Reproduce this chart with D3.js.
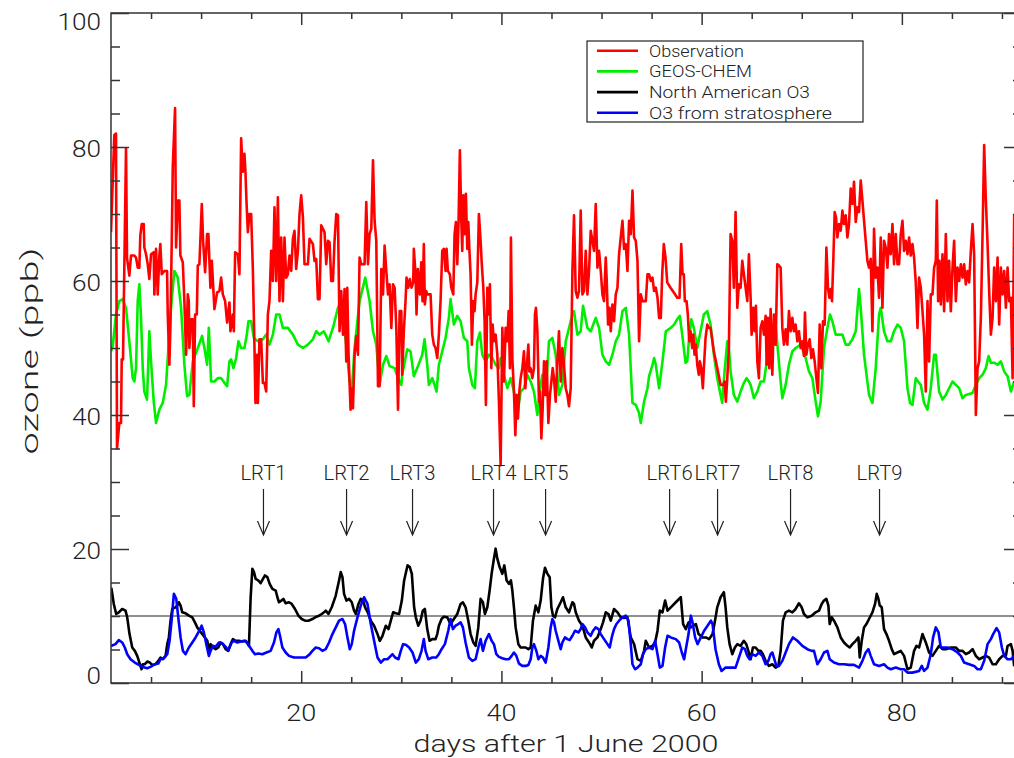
<!DOCTYPE html>
<html><head><meta charset="utf-8">
<script src="https://cdn.jsdelivr.net/npm/d3@7"></script>
<style>
html,body{margin:0;padding:0;background:#fff;}
svg text{font-family:Roboto,"DejaVu Sans",sans-serif;font-weight:300;fill:#222;}
</style></head>
<body>
<svg id="chart" width="1014" height="758"></svg>
<script>
// ---- DATA (day after 1 June 2000, ozone ppb) ----
const observation = [
[1.0,67.3],[1.33,81.8],[1.5,82.0],[1.6,35.0],[1.83,38.8],[2.0,38.8],[2.07,48.3],[2.2,48.3],[2.5,79.8],[2.6,63.5],[2.83,60.8],[3.0,63.8],[3.33,63.8],[3.5,63.5],[3.67,62.0],[3.83,62.0],[3.93,66.8],[4.07,68.5],[4.27,68.5],[4.33,65.0],[4.5,64.0],[4.67,62.5],[4.83,60.3],[5.0,64.0],[5.27,64.3],[5.33,58.0],[5.5,64.8],[5.67,58.0],[5.83,63.8],[5.93,65.5],[6.07,61.0],[6.33,61.5],[6.6,61.5],[6.67,55.0],[6.83,47.5],[6.93,53.0],[7.07,66.0],[7.17,77.0],[7.4,85.8],[7.5,65.0],[7.67,72.0],[7.83,72.0],[7.93,63.8],[8.17,62.8],[8.33,57.0],[8.5,49.0],[8.67,58.0],[8.77,57.0],[8.83,50.0],[9.0,54.3],[9.17,54.3],[9.27,41.3],[9.4,55.0],[9.57,55.0],[9.67,62.3],[9.83,62.5],[10.07,71.5],[10.2,66.0],[10.4,61.3],[10.6,67.0],[10.73,67.0],[10.93,59.0],[11.07,63.0],[11.33,55.8],[11.6,58.3],[11.83,58.5],[12.0,60.5],[12.17,58.0],[12.4,57.0],[12.6,53.8],[12.83,56.8],[12.93,52.5],[13.17,55.0],[13.27,52.5],[13.4,64.3],[13.67,64.0],[13.83,61.0],[14.0,81.3],[14.17,76.3],[14.33,79.0],[14.43,76.3],[14.53,72.0],[14.67,67.3],[14.83,70.0],[15.0,70.0],[15.17,61.8],[15.33,50.3],[15.43,41.8],[15.6,49.0],[15.67,41.8],[15.83,51.3],[16.0,51.3],[16.17,44.8],[16.33,44.8],[16.5,43.5],[16.67,55.0],[16.83,57.0],[17.0,64.5],[17.17,60.0],[17.33,71.0],[17.5,60.0],[17.67,72.5],[17.83,57.0],[18.0,66.5],[18.17,57.0],[18.33,66.5],[18.5,60.5],[18.67,61.0],[18.83,63.8],[19.0,61.5],[19.17,66.3],[19.33,67.5],[19.5,61.8],[19.67,64.5],[19.83,70.0],[20.0,72.8],[20.17,69.5],[20.33,62.5],[20.67,62.5],[20.83,66.3],[21.17,65.5],[21.33,63.0],[21.5,63.3],[21.67,57.3],[21.83,57.3],[22.0,68.3],[22.33,67.3],[22.5,62.5],[22.67,66.0],[22.83,65.8],[23.0,60.0],[23.17,60.0],[23.33,66.0],[23.5,70.0],[23.67,69.8],[23.83,52.5],[24.0,58.5],[24.17,52.0],[24.33,58.8],[24.5,48.0],[24.6,59.0],[24.73,49.0],[24.93,40.8],[25.07,44.0],[25.17,41.0],[25.33,49.0],[25.5,51.8],[25.67,49.0],[25.83,63.5],[26.0,62.5],[26.33,62.5],[26.5,71.8],[26.67,62.5],[26.83,67.0],[27.0,67.8],[27.17,78.0],[27.33,69.0],[27.5,66.0],[27.67,44.3],[27.83,44.3],[28.0,61.8],[28.17,58.0],[28.33,65.3],[28.5,61.5],[28.67,58.0],[28.83,59.5],[29.0,53.0],[29.17,59.5],[29.33,59.0],[29.5,53.0],[29.67,40.8],[29.83,55.5],[30.0,55.5],
[30.09,46.0],[30.25,52.5],[30.42,57.0],[30.52,60.5],[30.69,59.0],[30.85,60.3],[31.02,59.0],[31.19,59.8],[31.25,64.8],[31.42,61.0],[31.52,55.0],[31.65,61.8],[31.85,58.0],[31.99,62.8],[32.12,57.0],[32.25,65.5],[32.35,56.5],[32.49,58.5],[32.59,58.0],[32.92,58.0],[33.09,52.0],[33.25,50.5],[33.42,50.0],[33.59,48.5],[33.75,52.0],[33.92,57.0],[34.09,64.5],[34.25,64.8],[34.42,61.5],[34.52,64.8],[34.65,61.5],[34.85,61.0],[34.99,59.0],[35.19,58.0],[35.32,67.0],[35.45,68.8],[35.59,62.5],[35.72,69.0],[35.85,79.5],[35.99,69.0],[36.09,64.5],[36.19,72.8],[36.32,67.0],[36.45,73.0],[36.59,64.8],[36.69,68.8],[36.79,65.0],[36.92,61.0],[37.05,50.5],[37.19,57.0],[37.32,55.5],[37.42,58.0],[37.59,59.8],[37.75,70.0],[37.92,66.0],[38.02,63.0],[38.19,59.0],[38.32,54.0],[38.45,41.5],[38.59,59.0],[38.72,55.0],[38.85,59.5],[38.99,47.0],[39.12,53.5],[39.25,51.0],[39.42,52.0],[39.59,49.0],[39.75,42.0],[39.92,32.5],[40.09,53.0],[40.25,45.0],[40.42,53.0],[40.59,51.0],[40.72,55.5],[40.85,47.0],[40.95,66.5],[41.09,48.5],[41.25,43.5],[41.39,37.0],[41.52,43.0],[41.65,39.5],[41.79,43.5],[41.92,45.5],[42.09,47.0],[42.25,49.5],[42.39,44.0],[42.52,47.0],[42.69,50.5],[42.79,46.5],[42.92,47.0],[43.09,45.5],[43.25,47.0],[43.35,55.0],[43.45,56.0],[43.59,52.5],[43.75,42.0],[43.85,43.5],[43.99,36.5],[44.12,41.0],[44.25,48.0],[44.39,43.0],[44.52,48.0],[44.69,38.8],[44.85,43.0],[44.99,45.0],[45.12,47.0],[45.25,45.5],[45.42,42.0],[45.59,48.0],[45.75,52.5],[45.92,45.0],[46.09,50.0],[46.25,47.5],[46.42,44.0],[46.59,43.0],[46.75,41.3],[46.92,44.0],[47.09,61.5],[47.25,69.8],[47.42,58.5],[47.59,57.5],[47.75,58.5],[47.92,70.5],[48.09,58.0],[48.25,58.5],[48.42,64.5],[48.59,58.0],[48.75,61.5],[48.92,67.5],[49.09,66.0],[49.25,64.5],[49.42,71.5],[49.59,62.0],[49.75,64.5],[49.92,61.5],[50.09,58.0],[50.25,57.0],[50.42,63.5],[50.52,60.0],[50.65,53.5],[50.79,56.0],[50.92,52.5],[51.09,56.5],[51.25,54.0],[51.42,58.0],[51.59,59.0],[51.75,64.0],[51.92,66.5],[52.09,69.0],[52.25,64.8],[52.42,65.5],[52.59,61.5],[52.75,69.0],[52.92,67.0],[53.09,73.5],[53.25,66.5],[53.42,66.0],[53.59,63.0],[53.75,51.0],[53.92,58.0],[54.09,57.0],[54.42,57.0],[54.59,61.0],[54.75,61.0],[54.92,60.0],[55.09,60.5],[55.25,58.5],[55.42,59.0],[55.59,57.5],[55.75,54.5],[55.92,54.5],
[56.06,61.0],[56.22,65.5],[56.39,63.5],[56.56,59.8],[56.89,59.0],[57.22,58.3],[57.56,57.5],[57.79,57.5],[57.96,65.5],[58.09,61.0],[58.22,61.0],[58.32,57.0],[58.49,57.0],[58.62,55.0],[58.76,51.0],[58.89,52.5],[59.06,50.0],[59.16,52.0],[59.29,49.0],[59.42,50.5],[59.56,47.5],[59.72,46.0],[59.82,48.0],[59.96,47.0],[60.12,44.0],[60.22,47.0],[60.39,51.5],[60.56,53.5],[60.72,53.0],[60.89,53.0],[61.22,49.5],[61.56,47.0],[61.89,44.5],[62.16,44.5],[62.29,45.0],[62.42,42.0],[62.56,45.5],[62.72,50.0],[62.89,67.0],[63.06,66.0],[63.22,59.0],[63.39,70.3],[63.56,56.0],[63.72,59.5],[63.89,59.0],[64.06,63.0],[64.22,61.0],[64.39,59.0],[64.56,57.0],[64.72,64.0],[64.89,57.5],[64.99,52.0],[65.16,56.0],[65.29,52.5],[65.42,56.3],[65.56,48.0],[65.72,45.5],[65.89,53.0],[66.06,54.0],[66.22,52.0],[66.39,54.8],[66.49,47.5],[66.62,54.5],[66.76,47.0],[66.89,55.8],[67.06,46.0],[67.22,55.0],[67.39,50.5],[67.56,62.5],[67.72,62.3],[67.89,62.0],[68.06,53.0],[68.22,50.5],[68.39,52.8],[68.56,50.5],[68.72,55.5],[68.89,52.5],[69.06,54.5],[69.22,52.5],[69.39,53.5],[69.56,51.0],[69.72,52.5],[69.89,50.0],[70.06,51.0],[70.22,48.8],[70.32,55.3],[70.46,49.0],[70.62,50.5],[70.79,51.3],[70.96,48.5],[71.12,49.8],[71.29,48.0],[71.46,45.5],[71.62,43.3],[71.79,53.5],[71.96,47.0],[72.12,54.0],[72.29,53.5],[72.46,65.0],[72.62,59.0],[72.76,57.5],[72.89,58.8],[73.02,57.0],[73.16,63.5],[73.29,70.3],[73.42,69.5],[73.56,66.5],[73.72,68.5],[73.89,67.5],[74.06,70.5],[74.22,68.5],[74.39,69.8],[74.56,66.5],[74.72,68.5],[74.89,73.8],[75.06,71.5],[75.22,74.8],[75.39,68.8],[75.56,71.0],[75.72,70.3],[75.89,75.0],[76.06,72.0],[76.22,69.0],[76.39,66.0],[76.56,63.0],[76.72,62.0],[76.89,63.3],[77.06,52.5],[77.22,67.8],[77.39,60.5],[77.56,62.0],[77.72,57.5],[77.89,66.5],[78.06,56.0],[78.22,66.0],[78.39,65.0],[78.56,62.0],[78.72,67.0],[78.89,64.0],[79.06,68.5],[79.22,62.5],[79.39,67.0],[79.56,62.5],[79.72,62.5],[79.89,67.0],[80.06,69.0],[80.22,64.5],[80.39,66.0],[80.56,64.0],[80.72,66.5],[80.89,63.8],[81.06,65.5],[81.22,63.5],[81.39,59.8],[81.56,53.0],[81.72,60.5],[81.89,59.0],[82.06,55.5],[82.22,52.0],[82.39,43.5],[82.56,57.0],[82.72,48.0],[82.89,58.0],[83.06,58.0],[83.22,62.0],[83.39,63.0],[83.49,72.0],[83.62,57.0],[83.76,63.0],[83.89,56.5],[84.06,64.0],[84.22,55.5],[84.39,67.0],[84.56,57.0],[84.72,63.0],[84.89,55.5],[85.06,62.0],[85.22,66.0],[85.39,57.0],[85.56,62.0],[85.72,60.0],[85.89,62.5],[86.06,60.5],[86.22,62.5],[86.39,59.5],[86.56,61.5],[86.72,59.8],[86.89,64.5],[87.06,68.5],[87.22,64.0],[87.39,40.0],[87.56,47.0],[87.72,48.0],[87.89,54.5],[88.06,67.0],[88.22,80.3],[88.39,72.0],[88.56,65.5],[88.72,58.5],[88.89,52.0],[89.06,54.5],[89.22,62.0],[89.39,57.0],[89.56,63.5],[89.72,53.5],[89.89,62.0],[90.06,58.0],[90.22,61.5],[90.39,56.0],[90.56,62.0],[90.72,57.0],[90.89,57.5],[91.06,45.5],[91.22,70.0]
];
const geosChem = [
[1.0,49.5],[1.17,50.3],[1.5,55.0],[1.83,57.0],[2.17,57.3],[2.5,56.0],[2.83,51.0],[3.17,45.5],[3.33,45.0],[3.5,47.0],[3.67,57.0],[3.83,59.5],[4.0,54.5],[4.17,47.0],[4.33,43.5],[4.6,42.3],[4.83,52.5],[5.0,48.0],[5.27,42.0],[5.5,38.8],[5.83,40.8],[6.17,41.8],[6.5,44.5],[6.67,48.5],[7.0,56.0],[7.33,61.5],[7.67,60.5],[8.0,56.0],[8.33,47.5],[8.6,42.8],[8.83,43.0],[9.17,48.0],[9.67,50.0],[10.1,51.8],[10.33,50.0],[10.6,47.5],[10.77,53.0],[11.0,45.0],[11.33,45.0],[11.67,45.5],[12.0,45.5],[12.33,44.8],[12.6,44.3],[12.83,48.0],[13.0,48.3],[13.23,47.0],[13.5,48.5],[13.73,51.0],[14.0,50.0],[14.33,50.0],[14.57,52.0],[14.73,54.0],[15.0,54.0],[15.27,51.5],[15.67,51.0],[16.17,51.3],[16.5,52.0],[16.83,50.5],[17.17,52.0],[17.5,55.0],[17.83,55.0],[18.17,53.0],[18.67,53.0],[19.17,52.0],[19.67,50.5],[20.17,50.0],[20.67,50.5],[21.17,51.3],[21.5,52.5],[21.83,52.0],[22.27,52.5],[22.73,51.0],[23.23,53.3],[23.67,56.0],[24.0,57.0],[24.5,50.5],[24.83,45.0],[25.07,44.0],[25.33,50.0],[25.83,57.0],[26.4,60.5],[26.83,57.0],[27.17,52.5],[27.5,50.5],[27.83,44.5],[28.17,47.5],[28.5,48.8],[28.83,47.3],[29.33,47.0],[29.67,45.5],[30.0,44.5],
[30.09,46.0],[30.59,49.8],[30.92,49.5],[31.25,45.8],[31.59,47.0],[32.09,49.0],[32.32,51.3],[32.59,47.5],[32.75,44.5],[33.09,45.5],[33.32,44.5],[33.52,43.5],[33.75,47.5],[34.09,49.5],[34.42,51.5],[34.75,54.5],[34.92,57.3],[35.25,53.5],[35.59,54.8],[35.92,54.0],[36.25,51.5],[36.59,51.0],[36.75,47.0],[37.09,44.5],[37.35,44.0],[37.59,51.0],[37.85,52.3],[38.09,49.0],[38.42,48.0],[38.75,49.0],[39.09,48.5],[39.42,47.5],[39.75,47.0],[39.92,48.5],[40.25,46.0],[40.59,44.0],[40.92,45.5],[41.25,43.5],[41.59,40.0],[41.92,43.5],[42.25,44.0],[42.59,46.0],[42.92,45.0],[43.25,43.5],[43.59,40.0],[43.92,44.5],[44.09,46.0],[44.42,43.0],[44.75,51.0],[45.09,51.5],[45.42,49.0],[45.75,43.0],[46.09,44.5],[46.42,51.0],[46.59,52.0],[47.09,55.0],[47.25,55.5],[47.59,52.0],[47.92,52.5],[48.15,56.3],[48.59,53.0],[48.92,52.5],[49.42,54.5],[49.75,53.0],[50.09,49.0],[50.42,48.0],[50.75,47.5],[51.09,49.0],[51.42,51.0],[51.75,52.0],[52.09,55.5],[52.42,56.0],[52.75,52.0],[53.09,41.8],[53.42,41.5],[53.75,40.3],[53.92,38.8],[54.25,42.0],[54.59,44.0],[54.75,45.8],[55.09,47.5],[55.25,48.5],[55.42,47.5],[55.75,44.0],[56.09,48.0],[56.42,52.5],[56.92,53.0],[57.25,53.5],
[57.56,54.3],[57.82,54.8],[58.06,52.0],[58.39,47.8],[58.56,48.0],[58.72,51.0],[58.96,54.3],[59.22,53.0],[59.56,50.0],[59.89,52.5],[60.22,55.0],[60.56,55.5],[60.89,53.5],[61.22,49.0],[61.56,45.5],[61.89,43.0],[62.06,41.8],[62.29,46.5],[62.56,51.0],[62.72,50.0],[62.89,46.5],[63.22,43.0],[63.56,42.0],[63.89,43.5],[64.22,44.8],[64.49,45.5],[64.72,45.0],[64.89,44.5],[65.22,42.5],[65.56,43.5],[65.89,45.0],[66.22,45.0],[66.56,48.5],[66.89,51.0],[67.22,53.0],[67.39,53.5],[67.89,45.0],[68.06,42.5],[68.39,44.5],[68.72,47.5],[69.06,49.5],[69.39,50.0],[69.89,50.5],[70.39,48.5],[70.72,46.5],[71.06,45.5],[71.39,42.0],[71.62,39.8],[71.89,42.0],[72.22,50.0],[72.56,53.0],[72.82,55.0],[73.06,54.0],[73.39,52.0],[74.06,52.0],[74.39,50.5],[74.72,50.5],[75.06,51.3],[75.39,52.5],[75.72,58.8],[75.89,56.0],[76.22,49.0],[76.72,43.0],[77.06,41.8],[77.39,47.0],[77.72,55.0],[77.89,56.0],[78.22,52.5],[78.56,51.0],[78.89,51.0],[79.22,52.5],[79.56,53.5],[79.89,53.0],[80.22,51.0],[80.56,44.0],[80.82,41.8],[81.06,41.5],[81.39,45.5],[81.62,45.0],[81.89,44.5],[82.22,41.8],[82.56,40.8],[82.89,44.0],[83.22,49.0],[83.39,49.0],[83.72,43.5],[84.06,42.3],[84.39,43.0],[84.72,44.0],[85.06,45.0],[85.39,44.5],[85.72,44.0],[86.06,42.5],[86.39,43.0],[87.06,43.3],[87.39,44.5],[87.72,45.5],[88.06,46.0],[88.39,47.0],[88.66,48.8],[88.89,47.8],[89.22,47.8],[89.56,47.5],[89.89,48.0],[90.22,46.5],[90.56,45.8],[90.89,43.5],[91.22,45.0]
];
const northAmerican = [
[1.0,14.2],[1.05,14.05],[1.28,11.8],[1.52,10.3],[1.78,10.55],[2.12,11.05],[2.45,10.8],[2.62,9.8],[2.85,7.3],[3.12,5.3],[3.38,4.8],[3.62,4.05],[3.78,3.3],[4.05,2.05],[4.18,2.8],[4.38,2.8],[4.62,3.2],[4.88,3.05],[5.12,2.7],[5.45,2.8],[5.72,3.3],[5.95,3.8],[6.18,3.55],[6.45,4.05],[6.62,5.8],[6.78,6.8],[6.95,9.3],[7.12,11.05],[7.45,11.3],[7.62,11.55],[7.78,12.05],[7.95,11.55],[8.12,10.55],[8.45,10.4],[8.78,10.05],[9.12,9.8],[9.38,9.05],[9.62,8.3],[9.85,7.8],[10.12,7.3],[10.38,6.8],[10.62,6.3],[10.78,4.8],[10.95,5.8],[11.18,5.3],[11.45,5.05],[11.72,5.3],[11.95,6.05],[12.18,5.8],[12.45,5.05],[12.72,4.8],[12.95,5.8],[13.18,6.55],[13.45,6.3],[13.78,6.3],[14.12,6.2],[14.45,6.3],[14.78,5.55],[14.95,12.8],[15.12,17.05],[15.28,16.55],[15.45,15.55],[15.72,15.3],[15.95,14.9],[16.18,15.55],[16.38,16.05],[16.62,15.8],[16.85,14.8],[17.12,14.05],[17.45,13.8],[17.62,12.8],[17.78,12.05],[18.02,12.3],[18.22,12.55],[18.45,11.9],[18.78,12.05],[19.05,11.8],[19.38,11.05],[19.72,10.05],[20.05,9.55],[20.38,9.3],[20.72,9.3],[21.12,9.55],[21.52,9.9],[21.78,10.05],[22.05,10.3],[22.28,10.55],[22.45,10.8],[22.72,10.3],[23.05,11.3],[23.45,13.05],[23.78,15.3],[23.95,16.55],[24.12,15.8],[24.28,13.3],[24.52,12.3],[24.78,12.55],[25.05,12.05],[25.28,10.8],[25.45,10.3],[25.72,11.8],[25.95,12.55],[26.18,12.3],[26.38,11.3],[26.65,10.55],[26.95,9.3],[27.28,8.55],[27.62,7.3],[27.85,6.3],[28.12,7.05],[28.45,8.55],[28.72,8.05],[28.95,9.3],[29.18,10.55],[29.45,10.4],[29.78,10.3],[30.05,12.3],[30.28,15.3],[30.62,17.55],[30.85,17.3],[31.05,16.3],[31.28,11.3],[31.45,9.8],
[31.69,8.55],[31.92,9.3],[32.15,10.8],[32.35,11.05],[32.59,8.05],[32.82,6.3],[33.09,6.55],[33.42,6.55],[33.59,7.3],[33.75,8.55],[34.02,9.55],[34.25,9.9],[34.59,9.8],[34.92,8.8],[35.25,9.55],[35.59,10.3],[35.92,11.8],[36.15,12.05],[36.42,11.3],[36.69,9.3],[36.92,7.3],[37.19,6.05],[37.42,5.55],[37.69,8.3],[37.92,12.55],[38.15,12.05],[38.35,10.3],[38.59,11.3],[38.82,13.8],[39.02,16.3],[39.25,18.55],[39.42,20.05],[39.59,18.55],[39.82,17.3],[40.09,16.3],[40.29,17.55],[40.52,15.3],[40.75,14.8],[40.95,15.3],[41.09,13.8],[41.25,11.3],[41.42,8.3],[41.69,5.8],[41.92,5.3],[42.15,5.3],[42.42,5.3],[42.69,5.05],[42.92,5.3],[43.15,9.3],[43.42,11.55],[43.69,10.55],[43.92,12.3],[44.15,15.55],[44.35,17.2],[44.59,16.3],[44.82,15.8],[44.99,11.3],[45.15,10.05],[45.35,9.8],[45.59,11.05],[45.92,12.05],[46.15,12.8],[46.42,11.3],[46.75,10.55],[47.09,12.05],[47.25,11.8],[47.42,10.55],[47.75,9.3],[48.09,8.55],[48.42,6.8],[48.75,6.05],[49.02,5.3],[49.25,6.3],[49.59,6.8],[49.92,8.05],[50.15,9.05],[50.42,10.55],[50.69,10.3],[50.92,9.3],[51.25,11.05],[51.59,10.55],[51.92,9.8],[52.25,9.7],[52.59,9.8],[52.92,6.8],[53.25,5.8],[53.59,3.55],[53.92,3.3],[54.25,4.8],[54.42,6.3],[54.75,5.3],[55.09,5.55],[55.35,6.05],[55.59,7.8],[55.82,10.8],[56.09,10.55],[56.35,12.3],[56.59,10.8],[56.92,11.3],[57.42,12.05],[57.92,12.8],[58.15,8.8],[58.42,8.05],[58.69,9.05],[58.92,8.3],[59.15,8.55],[59.42,8.8],[59.69,7.3],[60.09,6.8],[60.42,6.8],[60.75,6.55],[61.09,7.3],[61.42,10.05],
[61.56,11.3],[61.89,12.8],[62.22,13.55],[62.39,11.3],[62.56,8.3],[62.79,5.8],[63.06,4.3],[63.32,5.3],[63.56,5.8],[63.89,5.55],[64.22,6.3],[64.46,5.8],[64.66,4.8],[64.89,3.55],[65.12,5.3],[65.39,5.3],[65.66,4.8],[65.89,4.8],[66.12,4.3],[66.39,3.3],[66.72,2.55],[67.06,2.8],[67.39,2.3],[67.66,2.55],[67.89,4.8],[68.12,9.3],[68.39,10.55],[68.72,10.8],[69.06,10.55],[69.39,11.05],[69.72,11.9],[69.99,11.3],[70.22,10.3],[70.56,9.8],[70.99,10.05],[71.39,10.55],[71.72,10.8],[71.99,11.8],[72.22,12.3],[72.46,12.55],[72.66,11.55],[72.79,8.8],[72.99,9.8],[73.22,9.3],[73.56,8.3],[73.89,6.8],[74.22,6.05],[74.56,5.55],[74.79,5.3],[75.06,5.8],[75.39,6.3],[75.66,6.8],[75.79,3.8],[75.99,6.3],[76.22,8.3],[76.46,8.8],[76.72,9.55],[77.06,10.55],[77.32,11.8],[77.49,13.3],[77.66,12.55],[77.79,11.55],[77.99,11.3],[78.22,8.05],[78.46,7.3],[78.72,6.3],[78.99,5.05],[79.22,4.3],[79.56,4.55],[79.89,4.8],[80.22,4.05],[80.56,2.05],[80.89,2.3],[81.22,4.8],[81.46,5.55],[81.72,5.3],[82.06,7.3],[82.39,6.05],[82.72,4.55],[83.06,4.05],[83.39,4.8],[83.72,5.55],[84.06,5.05],[84.39,5.05],[84.89,5.3],[85.39,5.3],[85.72,4.8],[86.06,4.8],[86.39,4.3],[86.72,4.55],[87.06,5.05],[87.39,4.05],[87.72,3.55],[88.06,3.8],[88.39,4.05],[88.72,3.8],[89.06,2.8],[89.39,2.8],[89.72,3.55],[90.06,4.05],[90.39,4.05],[90.56,5.55],[90.89,5.8],[91.06,4.8],[91.22,2.5]
];
const stratosphere = [
[1.0,5.5],[1.05,5.55],[1.45,5.8],[1.78,6.4],[2.12,6.05],[2.38,5.3],[2.62,4.3],[2.95,3.55],[3.38,3.05],[3.78,2.7],[4.18,2.4],[4.62,2.2],[4.95,2.4],[5.38,2.8],[5.72,2.9],[5.95,3.55],[6.28,3.7],[6.62,4.3],[6.85,6.3],[7.05,9.3],[7.28,13.3],[7.52,12.55],[7.72,9.8],[7.95,6.8],[8.18,4.8],[8.45,4.3],[8.78,5.3],[9.12,6.05],[9.45,6.8],[9.78,7.7],[10.05,8.55],[10.28,7.55],[10.52,5.8],[10.78,4.05],[10.95,4.8],[11.18,5.55],[11.45,5.4],[11.78,6.05],[12.12,5.9],[12.45,5.4],[12.72,4.9],[13.05,6.05],[13.28,6.3],[13.62,6.05],[13.95,6.2],[14.28,6.3],[14.62,6.05],[14.85,5.4],[15.12,4.8],[15.38,4.3],[15.72,4.4],[16.12,4.3],[16.52,4.55],[16.95,4.8],[17.28,6.05],[17.52,7.55],[17.72,8.05],[17.88,7.05],[18.12,5.3],[18.45,4.55],[18.78,4.05],[19.28,3.8],[19.78,3.8],[20.45,3.8],[20.85,4.3],[21.12,4.8],[21.45,5.3],[21.78,5.2],[22.12,4.8],[22.45,5.05],[22.78,6.05],[23.12,7.3],[23.45,8.3],[23.78,9.3],[24.12,9.55],[24.38,8.8],[24.62,6.8],[24.85,5.05],[25.05,5.8],[25.28,7.8],[25.62,9.8],[25.95,11.55],[26.28,12.8],[26.62,11.8],[26.95,8.8],[27.28,6.3],[27.62,3.8],[27.95,3.05],[28.28,3.55],[28.62,3.55],[28.95,4.05],[29.12,4.3],[29.38,3.8],[29.72,3.55],[29.95,4.8],[30.18,5.8],[30.45,5.7],[30.78,5.3],[31.12,4.55],[31.45,3.05],
[31.75,3.55],[32.02,4.8],[32.25,6.55],[32.42,4.8],[32.69,3.55],[33.09,3.8],[33.49,3.8],[33.75,4.3],[34.02,5.05],[34.35,5.8],[34.69,7.8],[34.92,9.55],[35.15,8.05],[35.42,8.55],[35.69,8.8],[35.92,9.05],[36.15,8.3],[36.42,6.05],[36.75,3.8],[37.09,3.3],[37.42,3.55],[37.69,5.3],[37.92,6.55],[38.15,4.8],[38.42,6.3],[38.75,7.3],[39.02,6.3],[39.25,5.8],[39.49,4.3],[39.75,3.9],[40.09,3.7],[40.42,3.55],[40.75,3.55],[41.02,4.05],[41.25,4.55],[41.49,4.05],[41.75,2.9],[42.09,2.55],[42.42,2.55],[42.69,2.7],[42.92,3.55],[43.09,5.3],[43.25,5.8],[43.49,4.8],[43.69,3.55],[43.92,4.05],[44.15,3.8],[44.42,3.05],[44.69,5.3],[44.92,8.3],[45.09,9.55],[45.25,9.05],[45.42,7.8],[45.69,6.3],[45.92,5.05],[46.09,6.05],[46.35,6.8],[46.59,6.55],[46.82,6.4],[47.09,7.05],[47.35,7.8],[47.69,7.55],[47.92,8.05],[48.09,8.8],[48.35,8.3],[48.59,7.55],[48.92,7.05],[49.15,7.8],[49.42,8.3],[49.69,8.05],[49.92,7.3],[50.25,6.55],[50.59,5.8],[50.82,5.3],[51.02,6.8],[51.25,8.05],[51.49,8.8],[51.75,9.3],[52.09,9.8],[52.42,10.05],[52.69,9.3],[52.92,5.8],[53.09,2.8],[53.35,2.05],[53.59,2.3],[53.92,2.8],[54.15,4.3],[54.42,5.05],[54.75,5.3],[55.09,5.05],[55.35,6.3],[55.59,4.3],[55.82,2.3],[56.09,2.55],[56.35,5.3],[56.59,7.05],[56.92,6.8],[57.42,6.55],[57.75,6.05],[58.02,4.55],[58.25,3.55],[58.42,5.05],[58.69,7.3],[58.92,10.05],[59.09,9.05],[59.35,6.8],[59.59,5.8],[59.92,6.8],[60.25,7.8],[60.59,8.55],[60.92,9.3],[61.09,8.8],[61.39,5.0],
[61.72,2.8],[61.99,1.8],[62.39,2.3],[62.89,2.3],[63.39,2.3],[63.72,3.8],[64.06,5.3],[64.32,5.05],[64.56,4.05],[64.79,3.55],[65.06,4.3],[65.39,4.05],[65.72,4.55],[66.06,4.05],[66.39,2.8],[66.66,3.3],[66.89,4.3],[67.06,4.55],[67.22,3.8],[67.46,2.55],[67.72,2.55],[68.06,3.3],[68.39,4.55],[68.72,5.8],[69.12,6.8],[69.56,6.3],[70.06,5.55],[70.56,5.05],[70.99,4.8],[71.22,4.8],[71.56,2.8],[71.89,3.55],[72.22,4.55],[72.56,4.8],[72.79,3.55],[73.22,3.05],[73.72,2.8],[74.22,2.8],[74.72,2.7],[75.22,2.7],[75.72,2.3],[76.06,3.3],[76.39,4.55],[76.66,5.05],[76.89,4.05],[77.22,2.8],[77.72,2.55],[78.22,2.8],[78.56,2.3],[78.89,2.05],[79.39,2.3],[79.89,2.05],[80.22,2.05],[80.56,1.55],[81.06,1.55],[81.72,1.8],[81.99,2.55],[82.22,1.8],[82.56,2.3],[82.89,4.3],[83.12,6.8],[83.39,8.3],[83.66,7.55],[83.89,5.3],[84.22,5.3],[84.56,5.3],[85.06,5.05],[85.56,4.55],[85.89,4.05],[86.22,3.05],[86.72,2.8],[87.22,2.55],[87.56,2.05],[87.89,2.05],[88.22,3.3],[88.56,5.8],[88.89,6.55],[89.12,7.3],[89.46,8.2],[89.72,7.55],[89.99,5.3],[90.22,4.05],[90.56,3.55],[90.89,3.55],[91.22,4.05]
];
const lrtDays = [16.23, 24.53, 31.12, 39.21, 44.41, 56.80, 61.59, 68.88, 77.77];
const lrtLabels = ["LRT1","LRT2","LRT3","LRT4","LRT5","LRT6","LRT7","LRT8","LRT9"];
const thresholdPpb = 10;
const xTickLabels = [20, 40, 60, 80];
const yTickLabels = [0, 20, 40, 60, 80, 100];
const legendNames = ["Observation", "GEOS-CHEM", "North American O3", "O3 from stratosphere"];
const legendColors = ["#ff0000", "#00ee00", "#000000", "#0000ff"];

// ---- DRAWING ----
const svg = d3.select("#chart");
const L = 111, R = 1022, T = 13, B = 683;
const x = d3.scaleLinear().domain([1, 92]).range([L, R]);
const y = d3.scaleLinear().domain([0, 100]).range([B, T]);
const axisColor = "#333";

svg.append("rect").attr("width",1014).attr("height",758).attr("fill","#fff");
svg.append("defs").append("clipPath").attr("id","clip")
  .append("rect").attr("x",L).attr("y",T).attr("width",R-L).attr("height",B-T);

const line = d3.line().x(d=>x(d[0])).y(d=>y(d[1]));
const g = svg.append("g").attr("clip-path","url(#clip)");

// threshold line
g.append("line").attr("x1",L).attr("x2",R).attr("y1",y(thresholdPpb)).attr("y2",y(thresholdPpb))
 .attr("stroke","#222").attr("stroke-width",1.2);

const series = [geosChem, observation, northAmerican, stratosphere];
const colors = [legendColors[1], legendColors[0], legendColors[2], legendColors[3]];
series.forEach((s,i)=>{
  g.append("path").datum(s).attr("d",line).attr("fill","none")
   .attr("stroke",colors[i]).attr("stroke-width",2.6).attr("stroke-linejoin","round");
});

// frame
svg.append("rect").attr("x",L).attr("y",T).attr("width",R-L).attr("height",B-T)
  .attr("fill","none").attr("stroke",axisColor).attr("stroke-width",1.5);

// axes using d3 axis generators (ticks only; labels drawn separately)
const yMajor = d3.range(0,101,20), yMinor = d3.range(0,101,5).filter(v=>v%20!==0);
const xMajor = d3.range(20,92,20), xMinor = d3.range(5,92,5).filter(v=>v%20!==0);
function tickAxis(axisFn, scale, vals, size, tr){
  const a = svg.append("g").attr("transform",tr)
    .call(axisFn(scale).tickValues(vals).tickSize(size).tickFormat(""));
  a.select(".domain").remove();
  a.selectAll(".tick line").attr("stroke",axisColor).attr("stroke-width",1.5);
}
tickAxis(d3.axisRight, y, yMajor, 18, `translate(${L},0)`);
tickAxis(d3.axisRight, y, yMinor, 9, `translate(${L},0)`);
tickAxis(d3.axisLeft, y, yMajor, 18, `translate(${R},0)`);
tickAxis(d3.axisLeft, y, yMinor, 9, `translate(${R},0)`);
tickAxis(d3.axisTop, x, xMajor, 12, `translate(0,${B})`);
tickAxis(d3.axisTop, x, xMinor, 6, `translate(0,${B})`);
tickAxis(d3.axisBottom, x, xMajor, 12, `translate(0,${T})`);
tickAxis(d3.axisBottom, x, xMinor, 6, `translate(0,${T})`);

// y tick labels
yTickLabels.forEach(v=>{
  let yy = y(v) + 10;
  if (v===0) yy = y(0) + 1;
  if (v===100) yy = y(100) + 17;
  const s = String(v);
  svg.append("text").attr("x",101).attr("y",yy).attr("text-anchor","end")
    .attr("font-size",24).attr("textLength",s.length*14.5).attr("lengthAdjust","spacingAndGlyphs").text(s);
});
// x tick labels
xTickLabels.forEach(v=>{
  const s = String(v);
  svg.append("text").attr("x",x(v)).attr("y",721).attr("text-anchor","middle")
    .attr("font-size",24).attr("textLength",s.length*15).attr("lengthAdjust","spacingAndGlyphs").text(s);
});
// axis titles
svg.append("text").attr("x",566).attr("y",752).attr("text-anchor","middle")
  .attr("font-size",24).attr("textLength",305).attr("lengthAdjust","spacingAndGlyphs")
  .text("days after 1 June 2000");
svg.append("text").attr("transform","translate(38,351) rotate(-90)").attr("text-anchor","middle")
  .attr("font-size",24).attr("textLength",207).attr("lengthAdjust","spacingAndGlyphs")
  .text("ozone (ppb)");

// LRT arrows
lrtDays.forEach((d,i)=>{
  const xx = x(d);
  const a = svg.append("g").attr("stroke","#222").attr("stroke-width",1.2).attr("fill","none");
  a.append("line").attr("x1",xx).attr("x2",xx).attr("y1",489).attr("y2",535);
  a.append("polyline").attr("points",`${xx-6},521 ${xx},535 ${xx+6},521`);
  svg.append("text").attr("x",xx).attr("y",480).attr("text-anchor","middle")
    .attr("font-size",20).attr("textLength",46).attr("lengthAdjust","spacingAndGlyphs").text(lrtLabels[i]);
});

// legend
const lg = svg.append("g");
lg.append("rect").attr("x",587).attr("y",41).attr("width",276).attr("height",81)
  .attr("fill","#fff").attr("stroke","#222").attr("stroke-width",1.2);
const legendWidths = [95, 103, 161, 183];
legendNames.forEach((n,i)=>{
  const yy = 50.7 + i*20.7;
  lg.append("line").attr("x1",597).attr("x2",638).attr("y1",yy).attr("y2",yy)
    .attr("stroke",legendColors[i]).attr("stroke-width",2.6);
  lg.append("text").attr("x",649).attr("y",yy+6).attr("font-size",17)
    .attr("textLength",legendWidths[i]).attr("lengthAdjust","spacingAndGlyphs").text(n);
});
</script>
</body></html>
